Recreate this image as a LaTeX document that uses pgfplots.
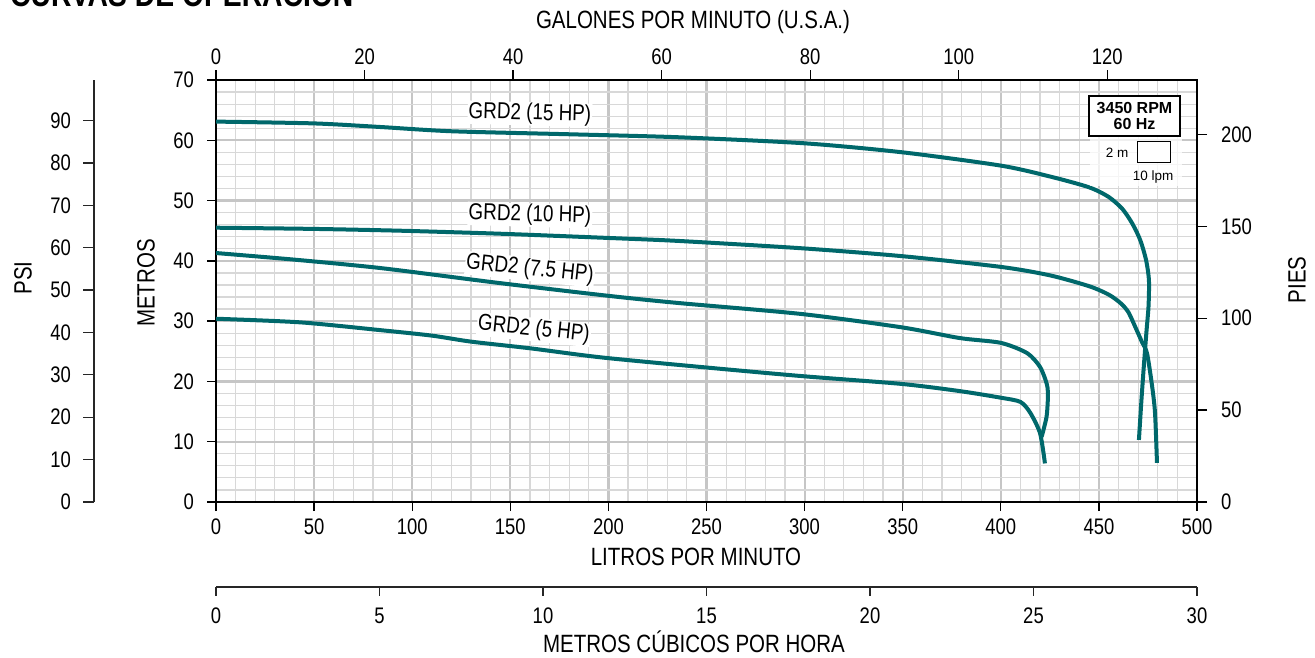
\documentclass[border=0pt]{standalone}
\usepackage{fontspec}
\setmainfont{Liberation Sans}[FakeStretch=0.82]
\newfontfamily\boxfont{Liberation Sans}
\usepackage{pgfplots}
\pgfplotsset{compat=1.18}
\pgfplotsset{/pgf/number format/assume math mode=true}
\definecolor{curve}{HTML}{00686B}
\definecolor{mingrid}{HTML}{D8D8D8}
\definecolor{majgrid}{HTML}{C6C6C6}
\newcommand{\tfont}{\fontsize{22.5}{24}\selectfont}
\newcommand{\lfont}{\fontsize{25}{27}\selectfont}
\begin{document}
\begin{tikzpicture}
\useasboundingbox (0pt,0pt) rectangle (1315pt,-658pt);
\fill[white] (0pt,0pt) rectangle (1315pt,-658pt);
% title (partly cut at top)
\node[anchor=base west, inner sep=0pt, font=\bfseries\fontsize{34.5}{36}\selectfont] at (10pt,-7pt) {CURVAS DE OPERACIÓN};
% main axis
\begin{axis}[
  at={(216pt,-502pt)}, anchor=south west,
  scale only axis, width=981pt, height=422pt,
  xmin=0, xmax=500, ymin=0, ymax=70,
  xtick={0,50,...,500}, ytick={0,10,...,70},
  minor x tick num=4, minor y tick num=4,
  grid=both,
  major grid style={draw=majgrid, line width=2.2pt},
  minor grid style={draw=mingrid, line width=1.2pt},
  xtick pos=left, ytick pos=left,
  tick align=outside,
  major tick length=9pt, minor tick length=0pt,
  tick style={black, line width=1.3pt},
  axis line style={line width=2.2pt},
  xticklabel style={font=\tfont, anchor=center, inner sep=0pt, yshift=-16pt},
  yticklabel style={font=\tfont, anchor=east, inner sep=0pt, xshift=-13pt},
]
\addplot[curve, line width=4pt, smooth, tension=0.45] coordinates {
(0,63.1) (50,62.8) (84,62.2) (120,61.5) (180,61.0) (236,60.5) (300,59.5) (350,58.0) (400,55.8) (425,54.0) (445,52.2) (455,50.6) (462,48.6) (467,46.2) (471,43.5) (474,40.2) (475.5,36.8) (475.3,32.5) (474.3,28.5) (473,23) (471.7,17) (470.4,10.3)};
\addplot[curve, line width=4pt, smooth, tension=0.45] coordinates {
(0,45.5) (50,45.3) (94,45.0) (145,44.5) (200,43.8) (236,43.3) (298,42.1) (349,40.8) (400,39.0) (425,37.6) (445,35.8) (455,34.4) (461,33.0) (465,31.5) (469,28.7) (472,26.5) (474.5,24.7) (477,19.5) (478.6,14.8) (479.6,6.5)};
\addplot[curve, line width=4pt, smooth, tension=0.45] coordinates {
(0,41.3) (40,40.2) (84,38.8) (145,36.3) (200,34.2) (236,33.0) (298,31.2) (349,29.0) (379,27.2) (400,26.4) (413.4,24.7) (420,22.4) (423.5,19.5) (424,17.4) (423.3,14.1) (420.8,10.8)};
\addplot[curve, line width=4pt, smooth, tension=0.45] coordinates {
(0,30.4) (43,29.8) (84,28.5) (110,27.6) (130,26.6) (160,25.5) (196,24.0) (247,22.4) (298,20.9) (349,19.6) (379,18.4) (400,17.3) (410,16.6) (415,14.8) (420,11.4) (422.5,6.4)};
\node[fill=white, inner sep=1pt, font=\fontsize{23}{25}\selectfont, rotate=-1.5] at (axis cs:160,64.4) {GRD2 (15 HP)};
\node[fill=white, inner sep=1pt, font=\fontsize{23}{25}\selectfont, rotate=-1.5] at (axis cs:160,47.6) {GRD2 (10 HP)};
\node[fill=white, inner sep=1pt, font=\fontsize{23}{25}\selectfont, rotate=-6] at (axis cs:160,38.6) {GRD2 (7.5 HP)};
\node[fill=white, inner sep=1pt, font=\fontsize{23}{25}\selectfont, rotate=-6] at (axis cs:162,28.6) {GRD2 (5 HP)};
\end{axis}
% top axis (GPM)
\begin{axis}[
  at={(216pt,-502pt)}, anchor=south west,
  scale only axis, width=981pt, height=422pt,
  xmin=0, xmax=132.086, ymin=0, ymax=70,
  axis x line*=top, hide y axis,
  xtick={0,20,...,120},
  tick align=outside, major tick length=10pt,
  tick style={black, line width=1.3pt},
  axis line style={line width=2.2pt},
  xticklabel style={font=\tfont, anchor=center, inner sep=0pt, yshift=13pt},
]
\end{axis}
% right axis (PIES)
\begin{axis}[
  at={(216pt,-502pt)}, anchor=south west,
  scale only axis, width=981pt, height=422pt,
  xmin=0, xmax=500, ymin=0, ymax=229.659,
  axis y line*=right, hide x axis,
  ytick={0,50,...,200},
  tick align=outside, major tick length=10pt,
  tick style={black, line width=1.3pt},
  axis line style={line width=2.2pt},
  yticklabel style={font=\tfont, anchor=west, inner sep=0pt, xshift=14pt},
]
\end{axis}
% PSI axis
\begin{axis}[
  at={(94pt,-502pt)}, anchor=south west,
  scale only axis, width=1pt, height=422pt,
  xmin=0, xmax=1, ymin=0, ymax=99.563,
  axis y line*=left, hide x axis,
  ytick={0,10,...,90},
  tick align=outside, major tick length=11pt,
  tick style={black!85, line width=1.3pt},
  axis line style={black!85, line width=1.3pt},
  yticklabel style={font=\tfont, anchor=east, inner sep=0pt, xshift=-12pt},
]
\end{axis}
% m3/h axis
\begin{axis}[
  at={(216pt,-587pt)}, anchor=south west,
  scale only axis, width=981pt, height=1pt,
  xmin=0, xmax=30, ymin=0, ymax=1,
  axis x line*=bottom, hide y axis,
  xtick={0,5,...,30},
  tick align=outside, major tick length=9pt,
  tick style={black!85, line width=1.3pt},
  axis line style={black!85, line width=1.3pt},
  xticklabel style={font=\tfont, anchor=center, inner sep=0pt, yshift=-20pt},
]
\end{axis}
% axis titles
\node[font=\lfont] at (693pt,-22pt) {GALONES POR MINUTO (U.S.A.)};
\node[font=\lfont] at (696pt,-557pt) {LITROS POR MINUTO};
\node[font=\lfont] at (694pt,-642pt) {METROS CÚBICOS POR HORA};
\node[font=\lfont, rotate=90] at (23pt,-278pt) {PSI};
\node[font=\lfont, rotate=90] at (146pt,-283pt) {METROS};
\node[font=\lfont, rotate=90] at (1297pt,-280pt) {PIES};
% speed / scale legend
\fill[white, opacity=0.75] (1090pt,-137pt) rectangle (1182pt,-186pt);
\draw[line width=2pt, fill=white] (1089pt,-96pt) rectangle (1180pt,-136pt);
\node[font=\boxfont\bfseries\fontsize{16}{18}\selectfont, align=center, inner sep=0pt] at (1134.5pt,-116pt) {3450 RPM\\[-2pt]60 Hz};
\draw[line width=1pt, fill=white] (1137pt,-142pt) rectangle (1170pt,-163pt);
\node[font=\boxfont\fontsize{13.5}{15}\selectfont, inner sep=0pt] at (1117pt,-153pt) {2 m};
\node[font=\boxfont\fontsize{13.5}{15}\selectfont, inner sep=0pt] at (1153pt,-177pt) {10 lpm};
\end{tikzpicture}
\end{document}
